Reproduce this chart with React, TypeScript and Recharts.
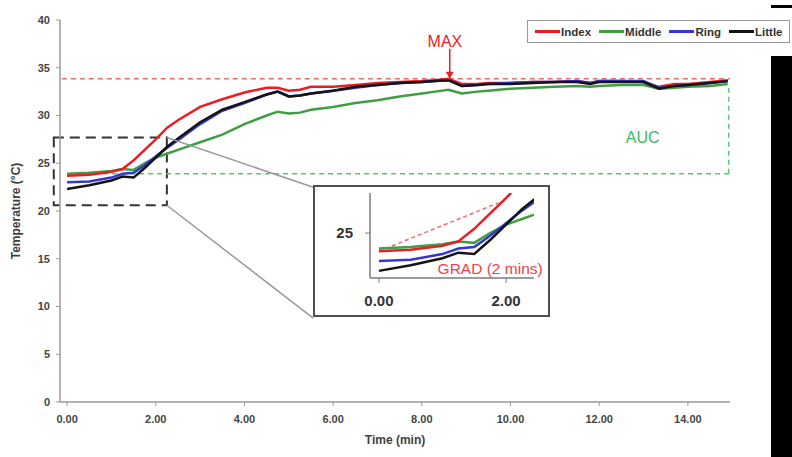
import React from "react";
import {
  LineChart,
  Line,
  XAxis,
  YAxis,
  ReferenceLine,
  ReferenceArea,
  ReferenceDot,
  Label,
} from "recharts";

// time in minutes
const TIME = [
  0, 0.5, 1.0, 1.25, 1.5, 1.75, 2.0, 2.25, 2.5, 3.0, 3.5, 4.0, 4.5, 4.75, 5.0,
  5.25, 5.5, 6.0, 6.5, 7.0, 7.5, 8.0, 8.3, 8.6, 8.9, 9.25, 9.5, 10.0, 10.5,
  11.0, 11.5, 11.8, 12.0, 12.5, 13.0, 13.35, 13.7, 14.0, 14.5, 14.9,
];

const INDEX = [
  23.7, 23.8, 24.1, 24.4, 25.3, 26.4, 27.5, 28.7, 29.5, 30.9, 31.7, 32.4, 32.9,
  32.9, 32.6, 32.7, 33.0, 33.0, 33.2, 33.4, 33.5, 33.6, 33.7, 33.85, 33.3, 33.3,
  33.4, 33.4, 33.5, 33.5, 33.6, 33.4, 33.6, 33.6, 33.5, 33.0, 33.3, 33.3, 33.5,
  33.7,
];

const MIDDLE = [
  23.9, 24.0, 24.2, 24.4, 24.3, 25.0, 25.6, 26.0, 26.4, 27.2, 28.0, 29.1, 30.0,
  30.4, 30.2, 30.3, 30.6, 30.9, 31.3, 31.6, 32.0, 32.3, 32.5, 32.7, 32.3, 32.5,
  32.6, 32.8, 32.9, 33.0, 33.1, 33.0, 33.1, 33.2, 33.2, 32.8, 32.9, 33.0, 33.1,
  33.3,
];

const RING = [
  23.0, 23.1, 23.5, 23.9, 24.0, 24.8, 25.7, 26.6, 27.4, 29.1, 30.5, 31.3, 32.2,
  32.5, 32.0, 32.1, 32.3, 32.6, 32.9, 33.2, 33.4, 33.5, 33.6, 33.7, 33.1, 33.2,
  33.3, 33.4, 33.5, 33.5, 33.6, 33.4, 33.6, 33.6, 33.6, 32.9, 33.1, 33.2, 33.4,
  33.6,
];

const LITTLE = [
  22.3, 22.7, 23.2, 23.6, 23.5, 24.5, 25.6, 26.7, 27.6, 29.3, 30.6, 31.4, 32.2,
  32.5, 32.0, 32.1, 32.3, 32.6, 33.0, 33.2, 33.4, 33.5, 33.6, 33.7, 33.1, 33.2,
  33.3, 33.3, 33.4, 33.5, 33.5, 33.3, 33.5, 33.5, 33.5, 32.8, 33.1, 33.2, 33.4,
  33.6,
];

const X_TICKS = [0, 2, 4, 6, 8, 10, 12, 14];
const Y_TICKS = [0, 5, 10, 15, 20, 25, 30, 35, 40];
const INSET_X_TICKS = [0, 2];
const INSET_Y_TICKS = [25];

// annotation values (data units)
const MAX_TEMP = 33.85;
const AUC_BASE = 23.9;
const AUC_END_TEMP = 33.2;
const AUC_END_TIME = 14.92;
const ZOOM_BOX = { t1: -0.3, t2: 2.25, T1: 20.6, T2: 27.7 };
const GRAD_START = { t: 0, T: 23.7 };
const GRAD_END = { t: 1.88, T: 27.15 };

const RED = "#ec1c24";
const GREEN = "#3f9e44";
const BLUE = "#3636d0";
const BLACK = "#141414";
const FONT = "'Liberation Sans', Arial, sans-serif";

const LEGEND_ORDER = [
  { key: "index", name: "Index", color: RED },
  { key: "middle", name: "Middle", color: GREEN },
  { key: "ring", name: "Ring", color: BLUE },
  { key: "little", name: "Little", color: BLACK },
];

// drawing order: black ends on top
const DRAW_ORDER = ["middle", "index", "ring", "little"];

const data = TIME.map((t, i) => ({
  t,
  index: INDEX[i],
  middle: MIDDLE[i],
  ring: RING[i],
  little: LITTLE[i],
}));

const colorOf = (key: string) =>
  LEGEND_ORDER.find((s) => s.key === key)!.color;

const ArrowDown = (p: any) => {
  const { x1, y1, x2, y2 } = p;
  return (
    <g>
      <line x1={x1} y1={y1} x2={x2} y2={y2 - 6} stroke={RED} strokeWidth={1.5} />
      <polygon
        points={`${x2 - 4},${y2 - 7} ${x2 + 4},${y2 - 7} ${x2},${y2}`}
        fill={RED}
      />
    </g>
  );
};

const noDot = () => <g />;

function MainChart() {
  const tickStyle = {
    fontSize: 11,
    fontWeight: 700,
    fill: "#454545",
    fontFamily: FONT,
  };
  return (
    <LineChart
      width={792}
      height={457}
      data={data}
      margin={{ top: 20, right: 62, left: 15, bottom: 15 }}
    >
      <XAxis
        type="number"
        dataKey="t"
        domain={[-0.16, 14.95]}
        ticks={X_TICKS}
        tickFormatter={(v: number) => v.toFixed(2)}
        axisLine={{ stroke: "#9a9a9a", strokeWidth: 1.5 }}
        tickLine={{ stroke: "#9a9a9a" }}
        tickSize={4}
        tickMargin={9}
        height={40}
        tick={tickStyle}
      >
        <Label
          content={({ viewBox }: any) => (
            <text
              x={viewBox.x + viewBox.width / 2}
              y={441}
              textAnchor="middle"
              dominantBaseline="middle"
              fontSize={12}
              fontWeight={700}
              fill="#404040"
              fontFamily={FONT}
            >
              Time (min)
            </text>
          )}
        />
      </XAxis>
      <YAxis
        domain={[0, 40]}
        ticks={Y_TICKS}
        width={45}
        axisLine={{ stroke: "#9a9a9a", strokeWidth: 1.5 }}
        tickLine={{ stroke: "#9a9a9a" }}
        tickSize={4}
        tickMargin={6}
        tick={tickStyle}
      >
        <Label
          content={({ viewBox }: any) => {
            const cx = 17;
            const cy = viewBox.y + viewBox.height / 2;
            return (
              <text
                x={cx}
                y={cy}
                transform={`rotate(-90, ${cx}, ${cy})`}
                textAnchor="middle"
                dominantBaseline="middle"
                fontSize={12}
                fontWeight={700}
                fill="#404040"
                fontFamily={FONT}
              >
                Temperature (°C)
              </text>
            );
          }}
        />
      </YAxis>

      {/* AUC outline */}
      <ReferenceLine
        segment={[
          { x: 0, y: AUC_BASE },
          { x: AUC_END_TIME, y: AUC_BASE },
        ]}
        stroke="#5cc47a"
        strokeWidth={1.5}
        strokeDasharray="5 4"
        ifOverflow="visible"
      />
      <ReferenceLine
        segment={[
          { x: AUC_END_TIME, y: AUC_BASE },
          { x: AUC_END_TIME, y: AUC_END_TEMP },
        ]}
        stroke="#5cc47a"
        strokeWidth={1.5}
        strokeDasharray="5 4"
        ifOverflow="visible"
      />
      {/* MAX level */}
      <ReferenceLine
        segment={[
          { x: -0.12, y: MAX_TEMP },
          { x: 14.95, y: MAX_TEMP },
        ]}
        stroke="#f06a6a"
        strokeWidth={1.5}
        strokeDasharray="5 4"
        ifOverflow="visible"
      />

      {DRAW_ORDER.map((k) => (
        <Line
          key={k}
          dataKey={k}
          type="linear"
          stroke={colorOf(k)}
          strokeWidth={2.5}
          dot={false}
          isAnimationActive={false}
        />
      ))}

      {/* zoom box and connectors */}
      <ReferenceArea
        x1={ZOOM_BOX.t1}
        x2={ZOOM_BOX.t2}
        y1={ZOOM_BOX.T1}
        y2={ZOOM_BOX.T2}
        fill="none"
        fillOpacity={0}
        stroke="#333"
        strokeWidth={2}
        strokeDasharray="10 6"
        ifOverflow="visible"
      />
      <ReferenceLine
        segment={[
          { x: ZOOM_BOX.t2, y: ZOOM_BOX.T2 },
          { x: 5.55, y: 22.48 },
        ]}
        stroke="#9a9a9a"
        strokeWidth={1.5}
        ifOverflow="visible"
      />
      <ReferenceLine
        segment={[
          { x: ZOOM_BOX.t2, y: ZOOM_BOX.T1 },
          { x: 5.55, y: 8.78 },
        ]}
        stroke="#9a9a9a"
        strokeWidth={1.5}
        ifOverflow="visible"
      />

      <ReferenceLine
        segment={[
          { x: 8.63, y: 37.0 },
          { x: 8.63, y: MAX_TEMP },
        ]}
        shape={ArrowDown}
        ifOverflow="visible"
      />
      <ReferenceDot
        x={8.52}
        y={37.75}
        r={0}
        shape={noDot}
        ifOverflow="visible"
        label={{
          value: "MAX",
          position: "center",
          fill: RED,
          fontSize: 16,
          fontFamily: FONT,
        }}
      />
      <ReferenceDot
        x={12.98}
        y={27.7}
        r={0}
        shape={noDot}
        ifOverflow="visible"
        label={{
          value: "AUC",
          position: "center",
          fill: "#3dbb5e",
          fontSize: 16,
          fontFamily: FONT,
        }}
      />
    </LineChart>
  );
}

function InsetChart() {
  const tickStyle = {
    fontSize: 15,
    fontWeight: 700,
    fill: "#333",
    fontFamily: FONT,
  };
  return (
    <div
      style={{
        position: "absolute",
        left: 313,
        top: 185,
        width: 237,
        height: 132,
        background: "#fff",
      }}
    >
      <LineChart
        width={237}
        height={132}
        data={data}
        margin={{ top: 8, right: 16, left: 0, bottom: 0 }}
      >
        <XAxis
          type="number"
          dataKey="t"
          domain={[-0.14, 2.44]}
          allowDataOverflow
          ticks={INSET_X_TICKS}
          tickFormatter={(v: number) => v.toFixed(2)}
          axisLine={{ stroke: "#7a7a7a", strokeWidth: 1.5 }}
          tickLine={{ stroke: "#7a7a7a" }}
          tickSize={5}
          tickMargin={12}
          height={39}
          tick={tickStyle}
        />
        <YAxis
          domain={[21.79, 27.86]}
          allowDataOverflow
          ticks={INSET_Y_TICKS}
          width={57}
          axisLine={{ stroke: "#7a7a7a", strokeWidth: 1.5 }}
          tickLine={{ stroke: "#7a7a7a" }}
          tickSize={5}
          tickMargin={12}
          tick={tickStyle}
        />
        <ReferenceLine
          segment={[
            { x: GRAD_START.t, y: GRAD_START.T },
            { x: GRAD_END.t, y: GRAD_END.T },
          ]}
          stroke="#f06a6a"
          strokeWidth={1.5}
          strokeDasharray="4 3"
        />
        {DRAW_ORDER.map((k) => (
          <Line
            key={k}
            dataKey={k}
            type="linear"
            stroke={colorOf(k)}
            strokeWidth={2.5}
            dot={false}
            isAnimationActive={false}
          />
        ))}
        <ReferenceDot
          x={1.75}
          y={22.5}
          r={0}
          shape={noDot}
          ifOverflow="visible"
          label={{
            value: "GRAD (2 mins)",
            position: "center",
            fill: "#f0404a",
            fontSize: 15.5,
            fontFamily: FONT,
          }}
        />
      </LineChart>
      <div
        style={{
          position: "absolute",
          inset: 0,
          border: "2px solid #505050",
          boxSizing: "border-box",
        }}
      />
    </div>
  );
}

function LegendBox() {
  return (
    <div
      style={{
        position: "absolute",
        left: 527,
        top: 20,
        width: 263,
        height: 23,
        boxSizing: "border-box",
        border: "1.5px solid #9a9a9a",
        background: "#fff",
        display: "flex",
        alignItems: "center",
        paddingLeft: 7,
        gap: 8,
        fontFamily: FONT,
        fontSize: 11.5,
        fontWeight: 700,
        color: "#333",
      }}
    >
      {LEGEND_ORDER.map((s) => (
        <div key={s.key} style={{ display: "flex", alignItems: "center" }}>
          <div
            style={{
              width: 25,
              height: 3,
              background: s.color,
              marginRight: 1,
            }}
          />
          <span>{s.name}</span>
        </div>
      ))}
    </div>
  );
}

export default function App() {
  return (
    <div
      style={{
        position: "fixed",
        left: 0,
        top: 0,
        width: 792,
        height: 457,
        background: "#fff",
        overflow: "hidden",
      }}
    >
      <MainChart />
      <InsetChart />
      <LegendBox />
      <div
        style={{
          position: "absolute",
          left: 771,
          top: 56,
          width: 21,
          height: 401,
          background: "#000",
        }}
      />
      <div
        style={{
          position: "absolute",
          left: 771,
          top: 5,
          width: 21,
          height: 3,
          background: "#000",
        }}
      />
    </div>
  );
}
